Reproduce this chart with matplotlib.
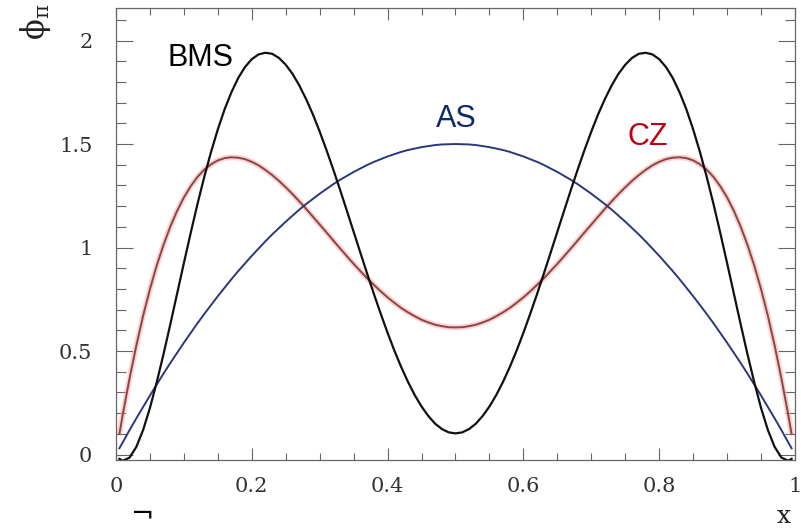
import matplotlib.pyplot as plt
from matplotlib.ticker import MultipleLocator

# pion distribution amplitudes phi_pi(x), sampled on a fine grid
x = [0.005, 0.01, 0.02, 0.03, 0.04, 0.05, 0.06, 0.07, 0.08, 0.09,
     0.10, 0.11, 0.12, 0.13, 0.14, 0.15, 0.16, 0.17, 0.18, 0.19,
     0.20, 0.21, 0.22, 0.23, 0.24, 0.25, 0.26, 0.27, 0.28, 0.29,
     0.30, 0.31, 0.32, 0.33, 0.34, 0.35, 0.36, 0.37, 0.38, 0.39,
     0.40, 0.41, 0.42, 0.43, 0.44, 0.45, 0.46, 0.47, 0.48, 0.49,
     0.50,
     0.51, 0.52, 0.53, 0.54, 0.55, 0.56, 0.57, 0.58, 0.59, 0.60,
     0.61, 0.62, 0.63, 0.64, 0.65, 0.66, 0.67, 0.68, 0.69, 0.70,
     0.71, 0.72, 0.73, 0.74, 0.75, 0.76, 0.77, 0.78, 0.79, 0.80,
     0.81, 0.82, 0.83, 0.84, 0.85, 0.86, 0.87, 0.88, 0.89, 0.90,
     0.91, 0.92, 0.93, 0.94, 0.95, 0.96, 0.97, 0.98, 0.99, 0.995]

phi_as = [0.030, 0.059, 0.118, 0.175, 0.230, 0.285, 0.338, 0.391, 0.442, 0.491,
          0.540, 0.587, 0.634, 0.679, 0.722, 0.765, 0.806, 0.847, 0.886, 0.923,
          0.960, 0.995, 1.030, 1.063, 1.094, 1.125, 1.154, 1.183, 1.210, 1.235,
          1.260, 1.283, 1.306, 1.327, 1.346, 1.365, 1.382, 1.399, 1.414, 1.427,
          1.440, 1.451, 1.462, 1.471, 1.478, 1.485, 1.490, 1.495, 1.498, 1.499,
          1.500,
          1.499, 1.498, 1.495, 1.490, 1.485, 1.478, 1.471, 1.462, 1.451, 1.440,
          1.427, 1.414, 1.399, 1.382, 1.365, 1.346, 1.327, 1.306, 1.283, 1.260,
          1.235, 1.210, 1.183, 1.154, 1.125, 1.094, 1.063, 1.030, 0.995, 0.960,
          0.923, 0.886, 0.847, 0.806, 0.765, 0.722, 0.679, 0.634, 0.587, 0.540,
          0.491, 0.442, 0.391, 0.338, 0.285, 0.230, 0.175, 0.118, 0.059, 0.030]

phi_cz = [0.099, 0.193, 0.368, 0.527, 0.671, 0.799, 0.913, 1.013, 1.101, 1.177,
          1.242, 1.296, 1.341, 1.376, 1.402, 1.421, 1.432, 1.436, 1.434, 1.427,
          1.414, 1.397, 1.375, 1.350, 1.322, 1.291, 1.258, 1.223, 1.187, 1.149,
          1.111, 1.073, 1.034, 0.996, 0.958, 0.921, 0.886, 0.851, 0.819, 0.788,
          0.759, 0.733, 0.708, 0.687, 0.668, 0.651, 0.638, 0.627, 0.620, 0.615,
          0.614,
          0.615, 0.620, 0.627, 0.638, 0.651, 0.668, 0.687, 0.708, 0.733, 0.759,
          0.788, 0.819, 0.851, 0.886, 0.921, 0.958, 0.996, 1.034, 1.073, 1.111,
          1.149, 1.187, 1.223, 1.258, 1.291, 1.322, 1.350, 1.375, 1.397, 1.414,
          1.427, 1.434, 1.436, 1.432, 1.421, 1.402, 1.376, 1.341, 1.296, 1.242,
          1.177, 1.101, 1.013, 0.913, 0.799, 0.671, 0.527, 0.368, 0.193, 0.099]

phi_bms = [-0.021, -0.030, -0.015, 0.037, 0.119, 0.225, 0.349, 0.485, 0.629, 0.777,
           0.925, 1.070, 1.210, 1.341, 1.462, 1.571, 1.668, 1.750, 1.819, 1.872,
           1.910, 1.933, 1.941, 1.936, 1.916, 1.883, 1.839, 1.783, 1.717, 1.643,
           1.560, 1.471, 1.377, 1.279, 1.178, 1.076, 0.974, 0.873, 0.774, 0.679,
           0.588, 0.502, 0.423, 0.351, 0.287, 0.232, 0.186, 0.149, 0.123, 0.107,
           0.102,
           0.107, 0.123, 0.149, 0.186, 0.232, 0.287, 0.351, 0.423, 0.502, 0.588,
           0.679, 0.774, 0.873, 0.974, 1.076, 1.178, 1.279, 1.377, 1.471, 1.560,
           1.643, 1.717, 1.783, 1.839, 1.883, 1.916, 1.936, 1.941, 1.933, 1.910,
           1.872, 1.819, 1.750, 1.668, 1.571, 1.462, 1.341, 1.210, 1.070, 0.925,
           0.777, 0.629, 0.485, 0.349, 0.225, 0.119, 0.037, -0.015, -0.030, -0.021]

fig = plt.figure(figsize=(8.01, 5.29), dpi=100)
ax = fig.add_axes([0.1448, 0.1304, 0.8477, 0.8544])

# CZ drawn with a soft pink halo under a darker core
ax.plot(x, phi_cz, color='#f4a6a6', lw=4.0, alpha=0.5, solid_capstyle='butt')
ax.plot(x, phi_cz, color='#8e4444', lw=1.4)
ax.plot(x, phi_as, color='#2b3878', lw=1.4)
ax.plot(x, phi_bms, color='#111111', lw=1.6)

ax.set_xlim(0, 1)
ax.set_ylim(-0.0266, 2.157)

ax.xaxis.set_minor_locator(MultipleLocator(0.05))
ax.yaxis.set_minor_locator(MultipleLocator(0.1))
ax.set_xticks([0, 0.2, 0.4, 0.6, 0.8, 1.0])
ax.set_xticklabels(['0', '0.2', '0.4', '0.6', '0.8', '1'])
ax.set_yticks([0, 0.5, 1.0, 1.5, 2.0])
ax.set_yticklabels(['0', '0.5', '1', '1.5', '2'])

for sp in ax.spines.values():
    sp.set_color('#666666')
    sp.set_linewidth(0.9)

ax.tick_params(axis='both', which='both', direction='in', top=True, right=True,
               color='#666666', width=0.8, labelcolor='#333333')
ax.tick_params(axis='x', which='major', length=8.6, pad=12)
ax.tick_params(axis='x', which='minor', length=4.7)
ax.tick_params(axis='y', which='major', length=12, pad=17)
ax.tick_params(axis='y', which='minor', length=7)
for lab in ax.get_xticklabels() + ax.get_yticklabels():
    lab.set_fontfamily('DejaVu Serif')
    lab.set_fontsize(15)

# curve names
ax.text(0.125, 1.915, 'BMS', fontsize=22, family='Liberation Sans',
        color='black', ha='center', va='center')
ax.text(0.501, 1.62, 'AS', fontsize=22, family='Liberation Sans',
        color='#0e2a6e', ha='center', va='center')
ax.text(0.783, 1.535, 'CZ', fontsize=22, family='Liberation Sans',
        color='#c00010', ha='center', va='center')

# axis titles
plt.rcParams['mathtext.default'] = 'regular'
fig.text(0.044, 0.958, r'$\phi_\pi$', fontsize=22, rotation=90,
         family='DejaVu Serif', color='#222222', ha='center', va='center')
fig.text(0.979, 0.024, 'x', fontsize=18, family='DejaVu Serif',
         color='#222222', ha='center', va='center')
fig.text(0.178, 0.0, '\u00ac', fontsize=20, family='DejaVu Sans',
         color='black', ha='center', va='bottom')

fig.savefig('out.png', dpi=100)
